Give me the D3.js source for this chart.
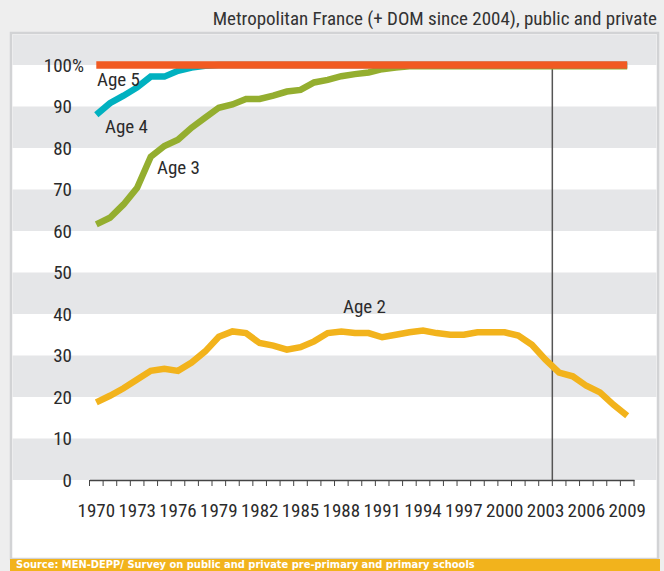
<!DOCTYPE html>
<html>
  <head>
    <meta charset="utf-8">
    <title>Pre-primary enrolment rates by age</title>
    <script src="https://cdn.jsdelivr.net/npm/d3@7"></script>
    <style>
      body {
        margin: 0;
        background-color: #eeeeee;
      }

      text {
        font-family: "Liberation Sans Narrow", "Roboto Condensed", "DejaVu Sans Condensed", sans-serif;
        fill: #2b2b2b;
      }

      .tick-label {
        font-size: 19px;
      }

      .series-label {
        font-size: 19px;
      }

      #title {
        font-size: 19px;
        fill: #333;
      }

      #source {
        font-family: "Liberation Sans Narrow", "DejaVu Sans Condensed", sans-serif;
        font-weight: bold;
        font-size: 11px;
        fill: white;
      }

      .line {
        fill: none;
        stroke-linejoin: miter;
      }
    </style>
  </head>
  <body>
    <svg></svg>

    <script>
      //begin: data
      var years = [1970, 1971, 1972, 1973, 1974, 1975, 1976, 1977, 1978, 1979,
                   1980, 1981, 1982, 1983, 1984, 1985, 1986, 1987, 1988, 1989,
                   1990, 1991, 1992, 1993, 1994, 1995, 1996, 1997, 1998, 1999,
                   2000, 2001, 2002, 2003, 2004, 2005, 2006, 2007, 2008, 2009];

      var age2 = [18.7, 20.3, 22.1, 24.2, 26.3, 26.8, 26.3, 28.3, 31.0, 34.5,
                  35.8, 35.4, 33.0, 32.4, 31.4, 32.0, 33.4, 35.4, 35.8, 35.4,
                  35.4, 34.4, 35.0, 35.6, 36.0, 35.4, 35.0, 35.0, 35.6, 35.6,
                  35.6, 34.8, 32.6, 29.0, 25.9, 25.0, 22.7, 21.1, 18.1, 15.5];

      var age3 = [61.6, 63.2, 66.4, 70.4, 77.9, 80.5, 82.0, 84.9, 87.3, 89.7,
                  90.5, 91.8, 91.8, 92.6, 93.6, 94.0, 95.8, 96.4, 97.3, 97.8,
                  98.2, 99.0, 99.4, 99.7, 99.7, 99.7, 99.7, 99.7, 99.7, 99.7,
                  99.7, 99.7, 99.7, 99.7, 99.7, 99.7, 99.7, 99.7, 99.7, 99.7];

      var age4 = [88.0, 90.8, 92.6, 94.6, 97.2, 97.2, 98.6, 99.4, 99.8, 100,
                  100, 100, 100, 100, 100, 100, 100, 100, 100, 100,
                  100, 100, 100, 100, 100, 100, 100, 100, 100, 100,
                  100, 100, 100, 100, 100, 100, 100, 100, 100, 100];

      var age5 = [100, 100, 100, 100, 100, 100, 100, 100, 100, 100,
                  100, 100, 100, 100, 100, 100, 100, 100, 100, 100,
                  100, 100, 100, 100, 100, 100, 100, 100, 100, 100,
                  100, 100, 100, 100, 100, 100, 100, 100, 100, 100];

      var yTicks = [0, 10, 20, 30, 40, 50, 60, 70, 80, 90, 100];
      var xTickLabels = [1970, 1973, 1976, 1979, 1982, 1985, 1988, 1991, 1994, 1997, 2000, 2003, 2006, 2009];
      var breakYear = 2004;

      var series = [
        {name: "Age 2", values: age2, color: "#f2b31c"},
        {name: "Age 3", values: age3, color: "#94ae2f"},
        {name: "Age 4", values: age4, color: "#00b1c0"},
        {name: "Age 5", values: age5, color: "#f15a22"}
      ];
      //end: data

      //begin: layout config.
      var svgWidth = 664,
          svgHeight = 571,
          panel = {left: 11, top: 33, right: 658, bottom: 559},
          plot = {left: 89.5, right: 634, top: 65, bottom: 480},
          labelPos = {
            "Age 2": [343, 313],
            "Age 3": [157, 174],
            "Age 4": [105, 133],
            "Age 5": [97, 86]
          };
      //end: layout config.

      var svg = d3.select("svg")
        .attr("width", svgWidth)
        .attr("height", svgHeight);

      var x = d3.scaleBand()
        .domain(years)
        .range([plot.left, plot.right])
        .padding(0);

      var y = d3.scaleLinear()
        .domain([0, 100])
        .range([plot.bottom, plot.top]);

      function xc(year) { return x(year) + x.bandwidth() / 2; }

      // title
      svg.append("text")
        .attr("id", "title")
        .attr("x", 657)
        .attr("y", 25)
        .attr("text-anchor", "end")
        .text("Metropolitan France (+ DOM since 2004), public and private");

      // panel
      svg.append("rect")
        .attr("x", panel.left)
        .attr("y", panel.top)
        .attr("width", panel.right - panel.left)
        .attr("height", panel.bottom - panel.top)
        .style("fill", "white")
        .style("stroke", "#d2d3d5")
        .style("stroke-width", 2.5);

      // grey bands: above 100, then every other step down to 0
      var bands = [[100, null]];
      for (var i = 0; i < yTicks.length - 1; i += 2) {
        bands.push([yTicks[i], yTicks[i + 1]]);
      }
      svg.append("g")
        .selectAll("rect")
        .data(bands)
        .enter()
          .append("rect")
            .attr("x", panel.left + 1.5)
            .attr("width", panel.right - panel.left - 3)
            .attr("y", function(d) { return d[1] === null ? panel.top + 1.5 : y(d[1]); })
            .attr("height", function(d) {
              return d[1] === null ? y(d[0]) - panel.top - 1.5 : y(d[0]) - y(d[1]);
            })
            .style("fill", "#e5e6e8");

      // break line (DOM included from 2004)
      svg.append("line")
        .attr("x1", x(breakYear))
        .attr("x2", x(breakYear))
        .attr("y1", y(100))
        .attr("y2", y(0))
        .style("stroke", "#555")
        .style("stroke-width", 1.5);

      // y labels
      svg.append("g")
        .selectAll("text")
        .data(yTicks)
        .enter()
          .append("text")
            .classed("tick-label", true)
            .attr("x", 72)
            .attr("y", function(d) { return y(d); })
            .attr("dy", "0.36em")
            .attr("text-anchor", "end")
            .text(function(d) { return d; });

      svg.append("text")
        .classed("tick-label", true)
        .attr("x", 72)
        .attr("y", y(100))
        .attr("dy", "0.36em")
        .text("%");

      // x axis
      var xAxis = d3.axisBottom(x)
        .tickSize(6)
        .tickSizeOuter(0)
        .tickFormat("");

      var axisG = svg.append("g")
        .attr("transform", "translate(0," + y(0) + ")")
        .call(xAxis);
      axisG.select(".domain").style("stroke", "#444").style("stroke-width", 1.3);
      // ticks at category boundaries
      axisG.selectAll(".tick").remove();
      axisG.append("g")
        .selectAll("line")
        .data(years.concat([null]))
        .enter()
          .append("line")
            .attr("x1", function(d, i) { return plot.left + i * x.bandwidth(); })
            .attr("x2", function(d, i) { return plot.left + i * x.bandwidth(); })
            .attr("y1", 0)
            .attr("y2", 6)
            .style("stroke", "#444")
            .style("stroke-width", 1);

      axisG.append("g")
        .selectAll("text")
        .data(xTickLabels)
        .enter()
          .append("text")
            .classed("tick-label", true)
            .attr("x", function(d) { return xc(d); })
            .attr("y", 37)
            .attr("text-anchor", "middle")
            .text(function(d) { return d; });

      // lines
      var line = d3.line()
        .x(function(d, i) { return xc(years[i]); })
        .y(function(d) { return y(d); });

      svg.append("g")
        .selectAll("path")
        .data(series)
        .enter()
          .append("path")
            .classed("line", true)
            .attr("d", function(d) { return line(d.values); })
            .style("stroke", function(d) { return d.color; })
            .style("stroke-width", function(d) { return d.name === "Age 5" ? 7.5 : 6.5; });

      // series labels
      svg.append("g")
        .selectAll("text")
        .data(series)
        .enter()
          .append("text")
            .classed("series-label", true)
            .attr("x", function(d) { return labelPos[d.name][0]; })
            .attr("y", function(d) { return labelPos[d.name][1]; })
            .text(function(d) { return d.name; });

      // source bar
      svg.append("rect")
        .attr("x", 10)
        .attr("y", 559)
        .attr("width", 650)
        .attr("height", 14)
        .style("fill", "#f2b31c");

      svg.append("text")
        .attr("id", "source")
        .attr("x", 16)
        .attr("y", 568)
        .text("Source: MEN-DEPP/ Survey on public and private pre-primary and primary schools");
    </script>
  </body>
</html>
